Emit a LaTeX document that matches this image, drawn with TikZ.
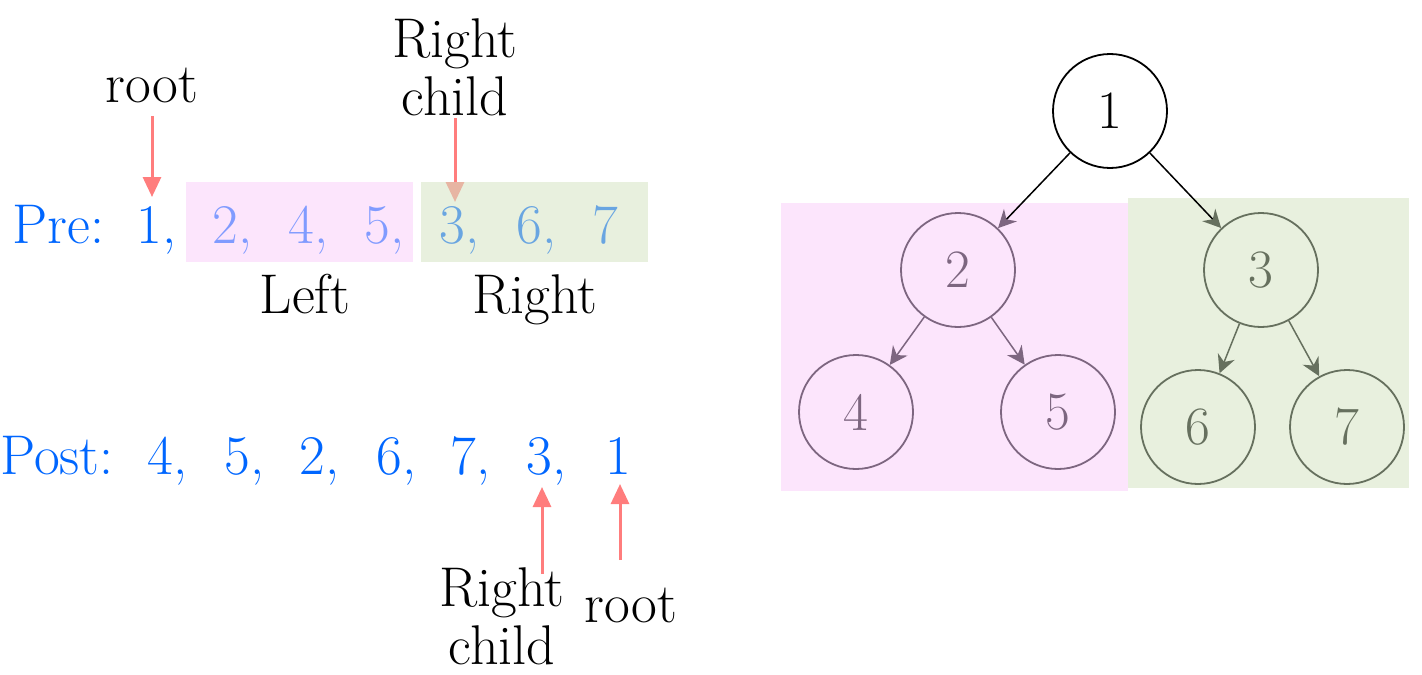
\documentclass[tikz,border=0pt]{standalone}
\usepackage{tikz}
\usetikzlibrary{arrows.meta,positioning}
\definecolor{seqblue}{RGB}{0,102,255}
\definecolor{leftblue}{RGB}{128,155,255}
\definecolor{rightblue}{RGB}{105,165,225}
\definecolor{pinkbg}{RGB}{252,229,252}
\definecolor{greenbg}{RGB}{232,240,222}
\definecolor{greenthin}{RGB}{213,228,195}
\definecolor{pointred}{RGB}{255,125,125}
\definecolor{leftnode}{RGB}{125,102,128}
\definecolor{rightnode}{RGB}{102,112,94}
\tikzset{
  seq/.style={anchor=base west,inner sep=0pt,font=\fontsize{28}{32}\selectfont},
  lbl/.style={align=center,inner sep=0pt,font=\fontsize{28}{29}\selectfont},
  pointer/.style={draw=pointred,line width=1.5pt,-{Triangle[length=10pt,width=9pt]}},
  tnode/.style={circle,draw,line width=0.9pt,minimum size=57pt,inner sep=0pt,font=\fontsize{27}{32}\selectfont},
  edge/.style={line width=0.75pt}
}
\begin{document}
\begin{tikzpicture}[x=0.5pt,y=-0.5pt]
  \useasboundingbox (0,0) rectangle (1422,674);
  % pointers above the pre-order line
  \node[lbl,anchor=base] (rootTop) at (152,103) {root};
  \node[lbl] (rcTop) at (455,67) {Right\\child};
  \coordinate (rootTopTip) at (152,197);
  \coordinate (rcTopTip) at (455,202);
  \draw[pointer,shorten <=6pt] (rootTop) -- (rootTopTip);
  \draw[pointer,shorten <=1pt] (rcTop) -- (rcTopTip);
  % sub-array boxes
  \fill[pinkbg] (186,182) rectangle (413,262);
  \fill[greenthin,fill opacity=0.55] (421,182) rectangle (648,262);
  % pre-order
  \node[seq,text=seqblue] (pre) at (12,243) {Pre:};
  \node[seq,text=seqblue] (pre1) at (136,243) {1,};
  \foreach \d/\x [count=\i from 2] in {2/226,4/302,5/378}
    \node[seq,text=leftblue] (pre\i) at (\x-14,243) {\d,};
  \node[seq,text=rightblue] (pre5) at (439,243) {3,};
  \node[seq,text=rightblue] (pre6) at (516,243) {6,};
  \node[seq,text=rightblue] (pre7) at (592,243) {7};
  \node[lbl,anchor=base] (leftLbl) at (305,313) {Left};
  \node[lbl,anchor=base] (rightLbl) at (535,313) {Right};
  % post-order
  \node[seq,text=seqblue] (post) at (0,474) {Post:};
  \foreach \d/\x [count=\i] in {4/161,5/238,2/313,6/390,7/464,3/540}
    \node[seq,text=seqblue] (post\i) at (\x-14,474) {\d,};
  \node[seq,text=seqblue] (post7) at (619-14,474) {1};
  % pointers below the post-order line
  \node[lbl] (rcBot) at (502,616) {Right\\child};
  \node[lbl,anchor=base] (rootBot) at (631,622) {root};
  \coordinate (rcBotTail) at (542,574);
  \coordinate (rcBotTip) at (542,487);
  \coordinate (rootBotTail) at (620,560);
  \coordinate (rootBotTip) at (620,484);
  \draw[pointer] (rcBotTail) -- (rcBotTip);
  \draw[pointer] (rootBotTail) -- (rootBotTip);
  % tree
  \fill[pinkbg] (781,203) rectangle (1128,491);
  \fill[greenbg] (1128,198) rectangle (1409,488);
  \node[tnode] (n1) at (1110,111) {1};
  \node[tnode,draw=leftnode,text=leftnode] (n2) at (958,270) {2};
  \node[tnode,draw=leftnode,text=leftnode] (n4) at (856,412) {4};
  \node[tnode,draw=leftnode,text=leftnode] (n5) at (1058,412) {5};
  \node[tnode,draw=rightnode,text=rightnode] (n3) at (1261,270) {3};
  \node[tnode,draw=rightnode,text=rightnode] (n6) at (1198,427) {6};
  \node[tnode,draw=rightnode,text=rightnode] (n7) at (1347,427) {7};
  \foreach \from/\to/\lc/\hc in {n1/n2/black/leftnode,n1/n3/black/rightnode,
    n2/n4/leftnode/leftnode,n2/n5/leftnode/leftnode,
    n3/n6/rightnode/rightnode,n3/n7/rightnode/rightnode}
    \draw[edge,draw=\lc,-{Stealth[length=9pt,width=9pt,color=\hc]}] (\from) -- (\to);
\end{tikzpicture}
\end{document}
